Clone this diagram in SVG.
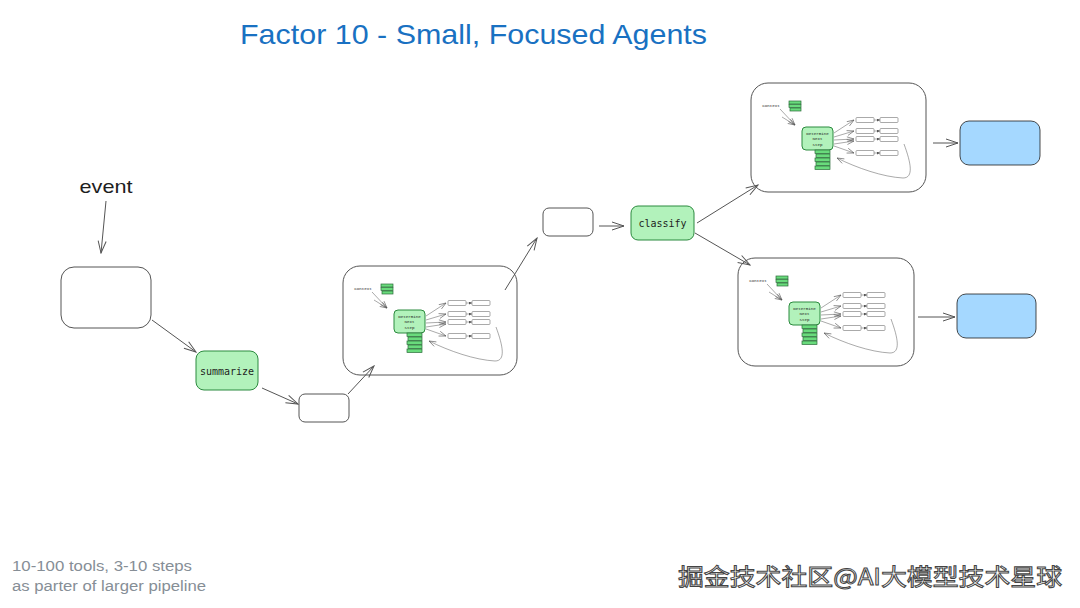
<svg xmlns="http://www.w3.org/2000/svg" xmlns:xlink="http://www.w3.org/1999/xlink" width="1080" height="608" viewBox="0 0 1080 608">
<style>
  .box{fill:#ffffff;stroke:#555;stroke-width:1}
  .green{fill:#b2f2bb;stroke:#2b8a3e;stroke-width:1}
  .blue{fill:#a5d8ff;stroke:#1e1e1e;stroke-width:0.8}
  .bar{fill:#69db7c;stroke:#2b6b3a;stroke-width:0.7}
  .tool{fill:#fff;stroke:#555;stroke-width:0.5}
  .conn{fill:none;stroke:#555;stroke-width:1;marker-end:url(#ah)}
  .sconn{fill:none;stroke:#555;stroke-width:0.5;marker-end:url(#ahs)}
  .mono{font-family:"DejaVu Sans Mono","Liberation Mono",monospace;font-size:10px;fill:#1e1e1e;text-anchor:middle}
  .tiny{font-family:"Liberation Mono",monospace;font-size:4.2px;fill:#1e1e1e;text-anchor:middle}
</style>
<defs>
  <marker id="ah" viewBox="0 0 14 10" refX="13" refY="5" markerWidth="14" markerHeight="10" markerUnits="userSpaceOnUse" orient="auto">
    <path d="M1,1 L13,5 L1,9" fill="none" stroke="#555" stroke-width="1"/>
  </marker>
  <marker id="ahs" viewBox="0 0 8 6" refX="7.5" refY="3" markerWidth="8" markerHeight="6" markerUnits="userSpaceOnUse" orient="auto">
    <path d="M0.5,0.5 L7.5,3 L0.5,5.5" fill="none" stroke="#555" stroke-width="0.6"/>
  </marker>
  <marker id="aht" viewBox="0 0 4 4" refX="4" refY="2" markerWidth="3" markerHeight="3" markerUnits="userSpaceOnUse" orient="auto">
    <path d="M0,0 L4,2 L0,4 Z" fill="#555"/>
  </marker>
  <g id="agentInner">
    <text x="20" y="23.5" class="tiny">Context</text>
    <rect class="bar" x="38" y="18" width="12" height="3"/>
    <rect class="bar" x="38" y="21.5" width="12" height="3"/>
    <rect class="bar" x="39" y="25" width="11" height="3"/>
    <path class="sconn" d="M29,26 L44,42"/>
    <path class="sconn" d="M31,34 L44,42"/>
    <rect class="green" x="51" y="44" width="31" height="23" rx="4"/>
    <text x="66.5" y="51.5" class="tiny">Determine</text>
    <text x="66.5" y="57" class="tiny">Next</text>
    <text x="66.5" y="62.5" class="tiny">Step</text>
    <rect class="bar" x="64" y="67" width="15" height="3.5"/>
    <rect class="bar" x="65" y="71" width="14" height="3.5"/>
    <rect class="bar" x="64" y="75" width="15" height="3.5"/>
    <rect class="bar" x="65" y="79" width="14" height="3.5"/>
    <rect class="bar" x="64" y="83" width="15" height="3.5"/>
    <path class="sconn" d="M83,50 L103,37"/>
    <path class="sconn" d="M83,54 L103,48"/>
    <path class="sconn" d="M83,57 L103,56"/>
    <path class="sconn" d="M83,61 L103,58"/>
    <path class="sconn" d="M83,63 L103,70"/>
    <rect class="tool" x="105" y="34.5" width="18" height="5" rx="1"/>
    <rect class="tool" x="105" y="45.5" width="18" height="5" rx="1"/>
    <rect class="tool" x="105" y="53.5" width="18" height="5" rx="1"/>
    <rect class="tool" x="105" y="67.5" width="18" height="5" rx="1"/>
    <rect class="tool" x="129" y="34.5" width="18" height="5" rx="1"/>
    <rect class="tool" x="129" y="45.5" width="18" height="5" rx="1"/>
    <rect class="tool" x="129" y="53.5" width="18" height="5" rx="1"/>
    <rect class="tool" x="129" y="67.5" width="18" height="5" rx="1"/>
    <g stroke="#555" stroke-width="0.5" marker-end="url(#aht)">
      <line x1="123" y1="37" x2="129" y2="37"/>
      <line x1="123" y1="48" x2="129" y2="48"/>
      <line x1="123" y1="56" x2="129" y2="56"/>
      <line x1="123" y1="70" x2="129" y2="70"/>
    </g>
    <path class="sconn" d="M153,61 C160,80 163,95 152,95 C132,94 106,85 86,75"/>
  </g>
</defs>

<text id="title" x="240" y="44" font-family="'Liberation Sans',Arial,sans-serif" font-size="28" fill="#1971c2" textLength="467" lengthAdjust="spacingAndGlyphs">Factor 10 - Small, Focused Agents</text>

<g id="event">
  <text x="106" y="193" font-family="'Liberation Sans',Arial,sans-serif" font-size="19" fill="#1e1e1e" text-anchor="middle" textLength="53" lengthAdjust="spacingAndGlyphs">event</text>
</g>

<g id="input-box"><rect class="box" x="61" y="267" width="90" height="61" rx="13"/></g>

<g id="summarize">
  <rect class="green" x="196" y="351" width="62" height="39" rx="8"/>
  <text x="227" y="374.5" class="mono">summarize</text>
</g>

<g id="summary-box"><rect class="box" x="299" y="394" width="50" height="28" rx="6"/></g>

<g id="agent1">
  <rect class="box" x="343" y="266" width="174" height="109" rx="17"/>
  <use xlink:href="#agentInner" href="#agentInner" transform="translate(343,266)"/>
</g>

<g id="mid-box"><rect class="box" x="543" y="208" width="50" height="28" rx="6"/></g>

<g id="classify">
  <rect class="green" x="631" y="206" width="63" height="34" rx="7"/>
  <text x="662.5" y="226.5" class="mono">classify</text>
</g>

<g id="agent2">
  <rect class="box" x="751" y="83" width="175" height="109" rx="17"/>
  <use xlink:href="#agentInner" href="#agentInner" transform="translate(751,83)"/>
</g>

<g id="agent3">
  <rect class="box" x="738" y="258" width="176" height="108" rx="17"/>
  <use xlink:href="#agentInner" href="#agentInner" transform="translate(738,258)"/>
</g>

<g id="out1"><rect class="blue" x="960" y="121" width="80" height="44" rx="9"/></g>
<g id="out2"><rect class="blue" x="957" y="294" width="79" height="44" rx="9"/></g>

<g id="connectors">
  <path class="conn" d="M106,201 L101,253"/>
  <path class="conn" d="M152,320 L196,352"/>
  <path class="conn" d="M262,388 L298,404"/>
  <path class="conn" d="M348,394 L374,366"/>
  <path class="conn" d="M505,290 L537,238"/>
  <path class="conn" d="M599,226 L624,226"/>
  <path class="conn" d="M697,223 L758,185"/>
  <path class="conn" d="M695,233 L750,265"/>
  <path class="conn" d="M933,143 L958,143"/>
  <path class="conn" d="M918,317 L955,317"/>
</g>

<g id="note" font-family="'Liberation Sans',Arial,sans-serif" font-size="14" fill="#868e96">
  <text x="12" y="571" textLength="180" lengthAdjust="spacingAndGlyphs">10-100 tools, 3-10 steps</text>
  <text x="12" y="591" textLength="194" lengthAdjust="spacingAndGlyphs">as parter of larger pipeline</text>
</g>

<g id="watermark">
  <text x="678" y="585" font-family="'Noto Sans CJK SC',sans-serif" font-size="23" fill="#ffffff" stroke="#444" stroke-width="1" textLength="384" lengthAdjust="spacingAndGlyphs">掘金技术社区@AI大模型技术星球</text>
</g>
</svg>
